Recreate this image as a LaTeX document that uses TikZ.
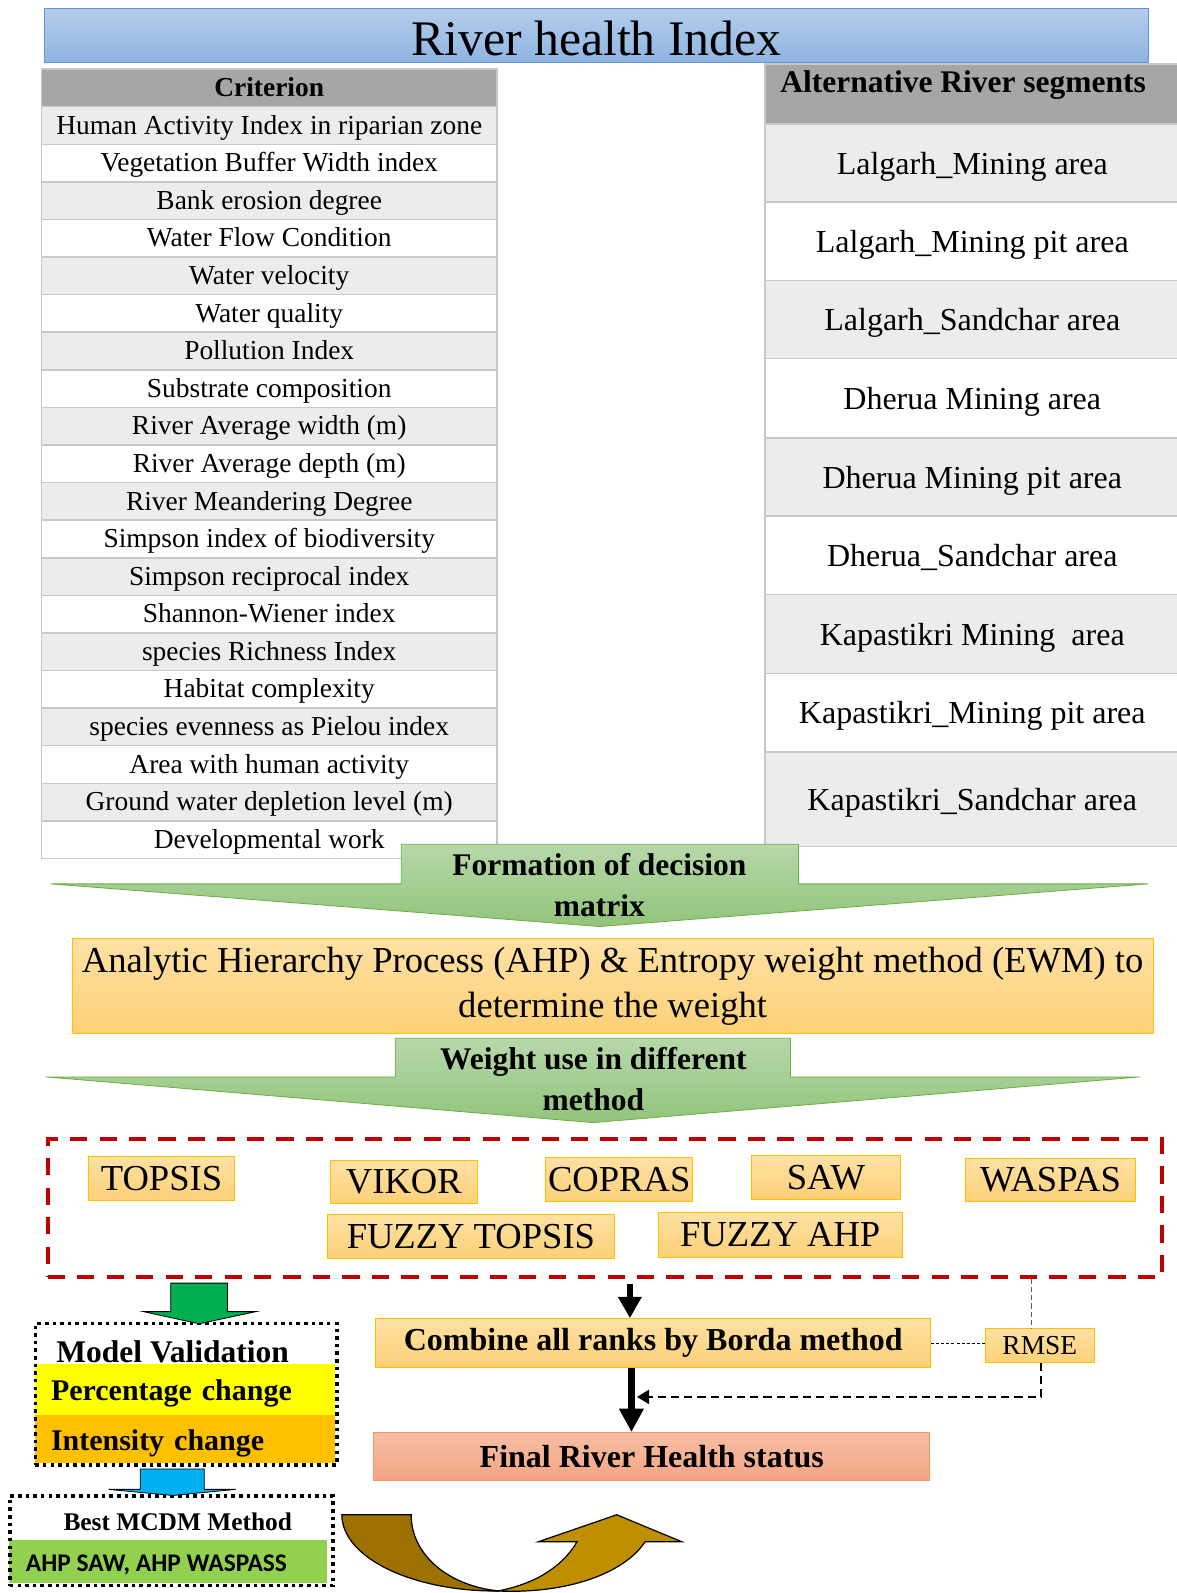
\documentclass[tikz,border=0pt]{standalone}
\usepackage{fontspec}
\setmainfont{Liberation Serif}
\newfontfamily\calibri{Carlito}
\usetikzlibrary{arrows.meta}

\definecolor{cellline}{RGB}{200,200,200}
\definecolor{rowgray}{RGB}{236,236,236}
\definecolor{hdrgray}{RGB}{166,166,166}
\definecolor{titletop}{RGB}{180,205,235}
\definecolor{titlebot}{RGB}{143,180,225}
\definecolor{titleline}{RGB}{91,155,213}
\definecolor{grtop}{RGB}{183,216,170}
\definecolor{grbot}{RGB}{145,196,122}
\definecolor{grline}{RGB}{112,173,71}
\definecolor{ortop}{RGB}{255,225,165}
\definecolor{orbot}{RGB}{252,208,118}
\definecolor{orline}{RGB}{255,192,0}
\definecolor{satop}{RGB}{246,190,165}
\definecolor{sabot}{RGB}{243,165,130}
\definecolor{saline}{RGB}{248,150,95}
\definecolor{redd}{RGB}{192,0,0}
\definecolor{vgreen}{RGB}{0,176,80}
\definecolor{vblue}{RGB}{0,176,240}
\definecolor{vyellow}{RGB}{255,255,0}
\definecolor{vorange}{RGB}{255,192,0}
\definecolor{lgreen}{RGB}{146,208,80}
\definecolor{browndark}{RGB}{156,113,0}
\definecolor{browngold}{RGB}{191,143,0}

\tikzset{
  cell/.style={draw=cellline, line width=1.5pt, minimum width=448pt, minimum height=37pt, inner sep=0pt, text height=20pt, text depth=3pt, font=\fontsize{27}{30}\selectfont},
  altcell/.style={draw=cellline, line width=1.5pt, minimum width=408pt, inner sep=0pt, text height=24pt, text depth=2pt, font=\fontsize{31.5}{36}\selectfont},
  orbox/.style={draw=orline, line width=1pt, top color=ortop, bottom color=orbot, inner sep=0pt},
  method/.style={orbox, font=\fontsize{36}{40}\selectfont},
  garrow/.style={draw=grline, line width=0.8pt, top color=grtop, bottom color=grbot},
  gtext/.style={align=center, font=\fontsize{31}{40}\selectfont\bfseries},
  dotbox/.style={draw=black, line width=3.5pt, dash pattern=on 3.5pt off 4pt, inner sep=0pt},
  band/.style={inner sep=0pt, inner xsep=16pt, text width=264pt, align=left, anchor=north west, text height=22pt, text depth=0pt, font=\fontsize{29.5}{32}\selectfont\bfseries},
  blockarrow/.style={draw=black, line width=0.8pt},
}

\begin{document}
\begin{tikzpicture}[x=1pt,y=-1pt]
\useasboundingbox (0,0) rectangle (1158,1568);

% title
\node[draw=titleline, line width=1pt, top color=titletop, bottom color=titlebot, minimum width=1086pt, minimum height=54pt, inner sep=0pt] (title) at (587,35) {};
\node[font=\fontsize{49}{55}\selectfont, anchor=base] (titletext) at (587,55) {River health Index};

% criterion table
\node[cell, fill=hdrgray, font=\fontsize{27}{30}\selectfont\bfseries] (crit) at (265,86.5) {Criterion};
\foreach \t [count=\i] in {Human Activity Index in riparian zone, Vegetation Buffer Width index, Bank erosion degree, Water Flow Condition, Water velocity, Water quality, Pollution Index, Substrate composition, River Average width (m), River Average depth (m), River Meandering Degree, Simpson index of biodiversity, Simpson reciprocal index, Shannon-Wiener index, species Richness Index, Habitat complexity, species evenness as Pielou index, Area with human activity, Ground water depletion level (m), Developmental work}{
  \ifodd\i \def\rf{rowgray}\else\def\rf{white}\fi
  \node[cell, fill=\rf] (c\i) at (265,{86.5+37*\i}) {\t};
}

% alternatives table
\node[draw=cellline, line width=1.5pt, fill=hdrgray, minimum width=408pt, minimum height=60pt, inner sep=0pt, anchor=north west] (althead) at (752,62) {};
\node[font=\fontsize{31}{34}\selectfont\bfseries, anchor=base] (alttext) at (948,91) {Alternative River segments};
\foreach \ya/\yb/\t [count=\i] in {122/199/Lalgarh\_Mining area, 199/276/Lalgarh\_Mining pit area, 276/353/Lalgarh\_Sandchar area, 353/431/Dherua Mining area, 431/508/Dherua Mining pit area, 508/585/Dherua\_Sandchar area, 585/663/Kapastikri Mining\ \ area, 663/740/Kapastikri\_Mining pit area, 740/833/Kapastikri\_Sandchar area}{
  \ifodd\i \def\rf{rowgray}\else\def\rf{white}\fi
  \node[altcell, fill=\rf, minimum height={\yb-\ya}] (a\i) at (957,{(\ya+\yb)/2}) {\t};
}

% green arrow 1
\path[garrow] (395,831) -- (786,831) -- (786,870) -- (1130,870) -- (590,912) -- (50,870) -- (395,870) -- cycle;
\node[gtext] (form) at (590,871) {Formation of decision\\matrix};

% AHP box
\node[orbox, minimum width=1064pt, minimum height=94pt, align=center, font=\fontsize{36}{44}\selectfont] (ahp) at (603,970.5) {Analytic Hierarchy Process (AHP) \& Entropy weight method (EWM) to\\determine the weight};

% green arrow 2
\path[garrow] (389,1022) -- (778,1022) -- (778,1060) -- (1122,1060) -- (584,1105) -- (45,1060) -- (389,1060) -- cycle;
\node[gtext] (wuse) at (584,1062) {Weight use in different\\method};

% red dashed box
\node[draw=redd, line width=4pt, dash pattern=on 17pt off 12pt, minimum width=1097pt, minimum height=136pt, inner sep=0pt] (redbox) at (595.5,1189) {};

\node[method, minimum width=144pt, minimum height=44pt] (topsis) at (159,1160) {TOPSIS};
\node[method, minimum width=145pt, minimum height=43pt] (vikor) at (397.5,1163.5) {VIKOR};
\node[method, minimum width=145pt, minimum height=44pt] (copras) at (609.5,1161) {COPRAS};
\node[method, minimum width=146pt, minimum height=44pt] (saw) at (813,1159) {SAW};
\node[method, minimum width=168pt, minimum height=43pt] (waspas) at (1034,1161.5) {WASPAS};
\node[method, minimum width=283pt, minimum height=44pt] (ftopsis) at (463.5,1217) {FUZZY TOPSIS};
\node[method, minimum width=240pt, minimum height=45pt] (fahp) at (768,1215.5) {FUZZY AHP};

% Borda, RMSE, Final
\node[orbox, minimum width=546pt, minimum height=48pt, font=\fontsize{31.5}{36}\selectfont\bfseries] (borda) at (643,1322) {Combine all ranks by Borda method};
\node[orbox, minimum width=107pt, minimum height=33pt, font=\fontsize{27}{30}\selectfont] (rmse) at (1023.5,1324.5) {RMSE};
\node[draw=saline, line width=1pt, top color=satop, bottom color=sabot, minimum width=547pt, minimum height=47pt, inner sep=0pt, font=\fontsize{31.5}{36}\selectfont\bfseries] (final) at (641.5,1433.5) {Final River Health status};

% connectors
\draw[line width=6.5pt, -{Triangle[width=22pt,length=21pt]}] ([xshift=24.5pt,yshift=-5pt]redbox.south) -- ([xshift=-23pt]borda.north);
\draw[line width=7.5pt, -{Triangle[width=23pt,length=23pt]}] ([xshift=-21.5pt]borda.south) -- ([xshift=-21.5pt]borda.south |- final.north);
\draw[line width=1pt, dash pattern=on 3pt off 2pt] (borda.east) -- (borda.east -| rmse.west);
\draw[line width=1.2pt, draw={rgb,255:red,90;green,90;blue,90}, dash pattern=on 5pt off 3pt] ([xshift=-8.5pt]rmse.north |- redbox.south) -- ([xshift=-8.5pt]rmse.north);
\coordinate (fb) at (627,1375);
\draw[line width=2pt, dash pattern=on 8pt off 5pt, -{Triangle[width=14pt,length=12pt]}] ([xshift=1.5pt]rmse.south) |- (fb);

% model validation
\node[band, fill=vyellow, minimum height=51pt] (pct) at (34,1342) {Percentage change};
\node[band, fill=vorange, minimum height=47pt] (intc) at (34,1393) {Intensity change};
\node[dotbox, minimum width=297pt, minimum height=139pt, anchor=north west] (mv) at (33,1301) {};
\node[font=\fontsize{31}{34}\selectfont\bfseries] (mvt) at (170,1331) {Model Validation};
\path[blockarrow, fill=vgreen] (168,1263) -- (224,1263) -- (224,1291) -- (252,1291) -- (196,1303) -- (141,1291) -- (168,1291) -- cycle;

% best method
\node[fill=lgreen, minimum width=313pt, minimum height=42pt, inner sep=0pt, anchor=north west] (bestband) at (9,1516) {};
\node[dotbox, minimum width=318pt, minimum height=88pt, anchor=north west] (best) at (8,1471) {};
\node[font=\fontsize{25}{28}\selectfont\bfseries] (bestt) at (175,1498) {Best MCDM Method};
\node[font=\fontsize{25}{28}\calibri\bfseries, anchor=west] (bestm) at (22,1540) {AHP SAW, AHP WASPASS};
\path[blockarrow, fill=vblue] (138,1446) -- (201,1446) -- (201,1466) -- (232,1466) -- (170,1472) -- (107,1466) -- (138,1466) -- cycle;

% curved arrow
\path[fill=browndark, draw=black, line width=1.2pt] (336.5,1491) -- (404.7,1491) .. controls (404.7,1532) and (444,1562) .. (492,1566) .. controls (406,1567) and (336.5,1533) .. (336.5,1491) -- cycle;
\path[fill=browngold, draw=black, line width=1.2pt] (490,1566) .. controls (560,1569) and (615,1548) .. (635,1517.5) -- (671,1517.5) -- (607,1491) -- (530,1517.5) -- (568,1517.5) .. controls (552,1545) and (522,1560) .. (490,1566) -- cycle;
\end{tikzpicture}
\end{document}
